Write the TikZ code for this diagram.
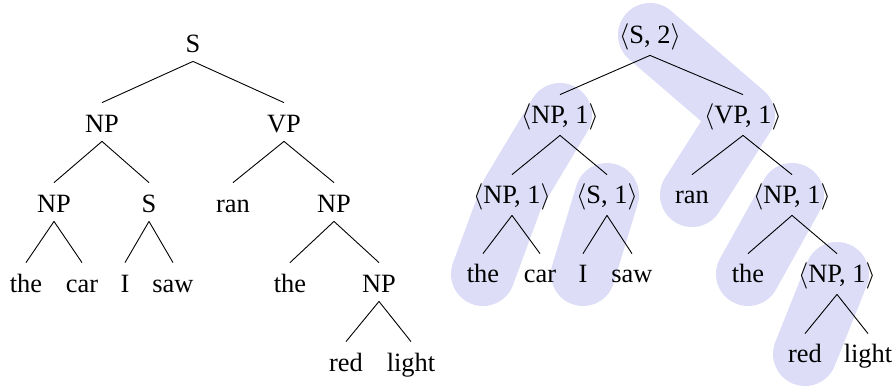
\documentclass[tikz,border=0pt]{standalone}
\usepackage{mathptmx}
\usepackage{fontspec}
\setmainfont{Liberation Serif}
\usetikzlibrary{backgrounds}
\definecolor{bandcol}{RGB}{221,221,248}
\newcommand{\tu}[2]{$\langle$#1, #2$\rangle$}
\begin{document}
\begin{tikzpicture}[x=0.5pt,y=-0.5pt,
  font=\fontsize{13.2pt}{15pt}\selectfont,
  lnode/.style={anchor=base,inner sep=0pt,text height=14.5pt,text depth=4.5pt},
  rnode/.style={anchor=base,inner sep=0pt,text height=14pt,text depth=6pt},
  edge/.style={draw=black,line width=0.45pt},
  band/.style={draw=bandcol,line width=32pt,line cap=round,line join=round}]
\useasboundingbox (0,0) rectangle (896,387);
% left tree
\node[lnode] (lS) at (193,52) {S};
\node[lnode] (lNP) at (102,132) {NP};
\node[lnode] (lVP) at (284,132) {VP};
\node[lnode] (lNPa) at (54,212) {NP};
\node[lnode] (lSa) at (149,212) {S};
\node[lnode] (lran) at (233,212) {ran};
\node[lnode] (lNPb) at (334,212) {NP};
\node[lnode] (lthe) at (26,292) {the};
\node[lnode] (lcar) at (82,292) {car};
\node[lnode] (lI) at (125,292) {I};
\node[lnode] (lsaw) at (173,292) {saw};
\node[lnode] (lthea) at (290,292) {the};
\node[lnode] (lNPc) at (379,292) {NP};
\node[lnode] (lred) at (346,371) {red};
\node[lnode] (llight) at (411,371) {light};
\foreach \p/\c in {lS/lNP,lS/lVP,lNP/lNPa,lNP/lSa,lVP/lran,lVP/lNPb,lNPa/lthe,lNPa/lcar,lSa/lI,lSa/lsaw,lNPb/lthea,lNPb/lNPc,lNPc/lred,lNPc/llight}
  \draw[edge] (\p.south) -- (\c.north);
% right tree
\node[rnode] (rS) at (650,43) {\tu{S}{2}};
\node[rnode] (rNP) at (560,123) {\tu{NP}{1}};
\node[rnode] (rVP) at (743,123) {\tu{VP}{1}};
\node[rnode] (rNPa) at (512,203) {\tu{NP}{1}};
\node[rnode] (rSa) at (607,203) {\tu{S}{1}};
\node[rnode] (rran) at (692,203) {ran};
\node[rnode] (rNPb) at (792,203) {\tu{NP}{1}};
\node[rnode] (rthe) at (483,282) {the};
\node[rnode] (rcar) at (540,282) {car};
\node[rnode] (rI) at (583,282) {I};
\node[rnode] (rsaw) at (632,282) {saw};
\node[rnode] (rthea) at (748,282) {the};
\node[rnode] (rNPc) at (837,282) {\tu{NP}{1}};
\node[rnode] (rred) at (805,362) {red};
\node[rnode] (rlight) at (868,362) {light};
\foreach \p/\c in {rS/rNP,rS/rVP,rNP/rNPa,rNP/rSa,rVP/rran,rVP/rNPb,rNPa/rthe,rNPa/rcar,rSa/rI,rSa/rsaw,rNPb/rthea,rNPb/rNPc,rNPc/rred,rNPc/rlight}
  \draw[edge] (\p.south) -- (\c.north);
\begin{scope}[on background layer]
  \draw[band] (rS.center) -- (rVP.center) -- (rran.center);
  \draw[band] (rNP.center) -- (rNPa.center) -- (rthe.center);
  \draw[band] (rSa.center) -- (rI.center);
  \draw[band] (rNPb.center) -- (rthea.center);
  \draw[band] (rNPc.center) -- (rred.center);
\end{scope}
\end{tikzpicture}
\end{document}
